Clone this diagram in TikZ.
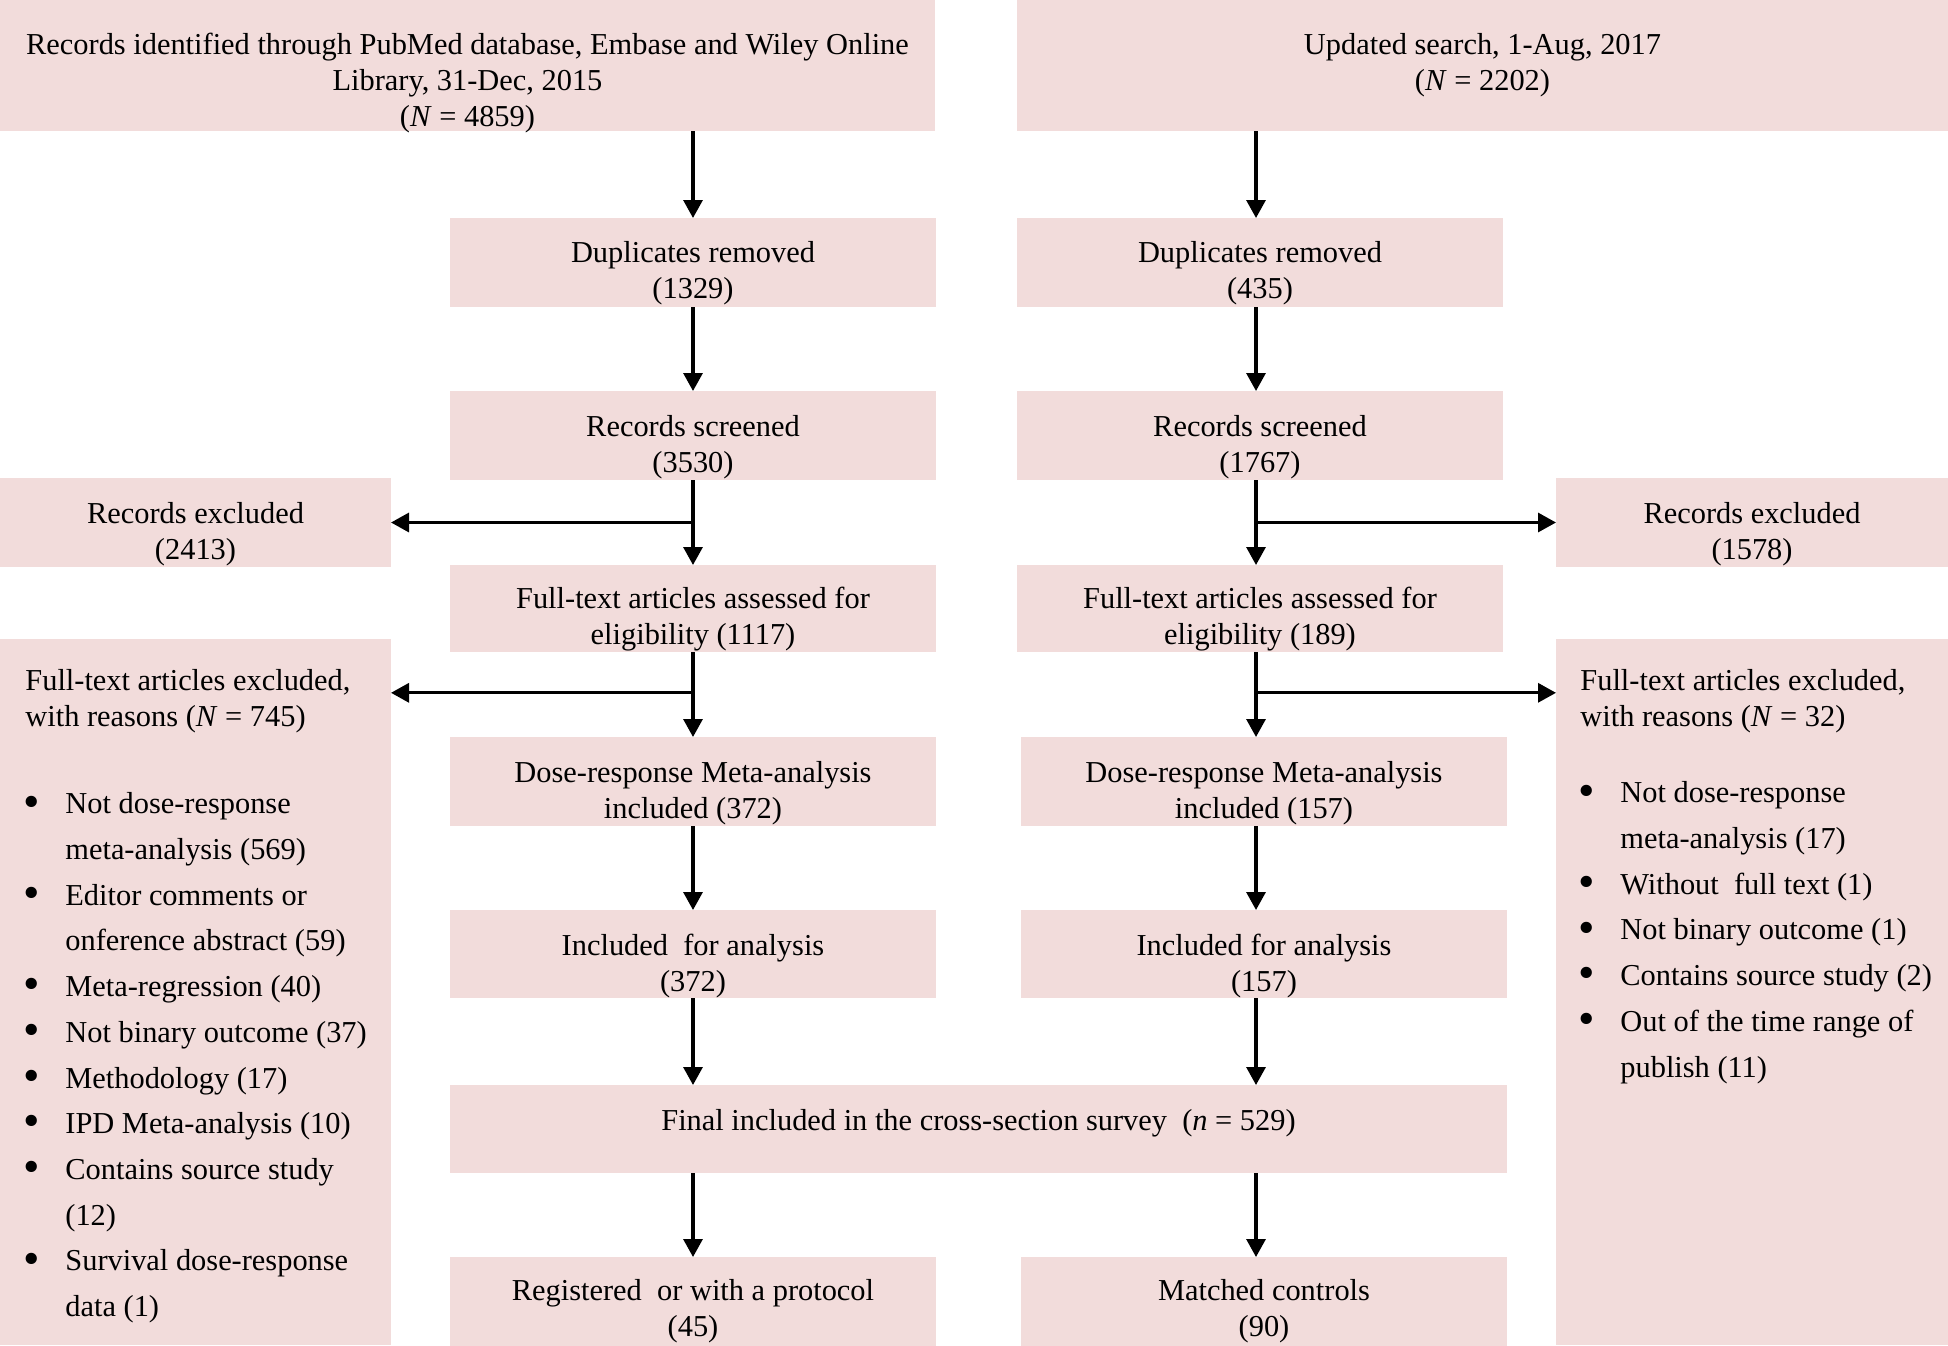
\documentclass[tikz,border=0pt]{standalone}
\usepackage{fontspec}
\setmainfont{Liberation Serif}
\usetikzlibrary{positioning,calc,arrows.meta}
\definecolor{boxpink}{HTML}{F2DCDB}
\newcommand{\fs}{\fontsize{15.2}{18}\selectfont}
\newcommand{\fslist}{\fontsize{15.2}{22.85}\selectfont}
\newcommand{\bul}{\makebox[20pt][l]{\hspace*{-1pt}\raisebox{-1.6pt}{\scalebox{1.55}{\textbullet}}}}
\newcommand{\ind}{\hspace*{20pt}}

\begin{document}
\begin{tikzpicture}[x=0.5pt,y=-0.5pt,
                    box/.style={fill=boxpink,anchor=north west,inner sep=0pt,outer sep=0pt,
                                minimum width=243pt,minimum height=44.5pt},
                    txt/.style={inner sep=0pt,align=center,font=\fs},
                    lst/.style={inner sep=0pt,align=left,font=\fslist},
                    arr/.style={line width=1.6pt,-{Triangle[length=9pt,width=9.5pt]}}]

    \useasboundingbox (0,0) rectangle (1948,1345);

    \node[box,minimum width=467.5pt,minimum height=65.5pt] (topL) at (0,0) {};
    \node[box,minimum width=465.5pt,minimum height=65.5pt] (topR) at (1017,0) {};
    \node[box] (dupL) at (450,218) {};
    \node[box] (dupR) at (1017,218) {};
    \node[box] (scrL) at (450,391) {};
    \node[box] (scrR) at (1017,391) {};
    \node[box,minimum width=195.5pt] (exL) at (0,478) {};
    \node[box,minimum width=196pt] (exR) at (1556,478) {};
    \node[box,minimum height=43.5pt] (fullL) at (450,565) {};
    \node[box,minimum height=43.5pt] (fullR) at (1017,565) {};
    \node[box,minimum width=195.5pt,minimum height=353pt] (reasL) at (0,639) {};
    \node[box,minimum width=196pt,minimum height=353pt] (reasR) at (1556,639) {};
    \node[box] (doseL) at (450,737) {};
    \node[box] (doseR) at (1021,737) {};
    \node[box,minimum height=44pt] (inclL) at (450,910) {};
    \node[box,minimum height=44pt] (inclR) at (1021,910) {};
    \node[box,minimum width=528.5pt,minimum height=44pt] (final) at (450,1085) {};
    \node[box] (regL) at (450,1257) {};
    \node[box] (matchR) at (1021,1257) {};

    \node[txt,below=16.5pt of topL.north] {Records identified through PubMed database, Embase and Wiley Online\\Library, 31-Dec, 2015\\(\textit{N} = 4859)};
    \node[txt,below=16.5pt of topR.north] {Updated search, 1-Aug, 2017\\(\textit{N} = 2202)};
    \node[txt,below=11.5pt of dupL.north] {Duplicates removed\\(1329)};
    \node[txt,below=11.5pt of dupR.north] {Duplicates removed\\(435)};
    \node[txt,below=12pt of scrL.north] {Records screened\\(3530)};
    \node[txt,below=12pt of scrR.north] {Records screened\\(1767)};
    \node[txt,below=12pt of exL.north] {Records excluded\\(2413)};
    \node[txt,below=12pt of exR.north] {Records excluded\\(1578)};
    \node[txt,below=11pt of fullL.north] {Full-text articles assessed for\\eligibility (1117)};
    \node[txt,below=11pt of fullR.north] {Full-text articles assessed for\\eligibility (189)};
    \node[txt,below=12pt of doseL.north] {Dose-response Meta-analysis\\included (372)};
    \node[txt,below=12pt of doseR.north] {Dose-response Meta-analysis\\included (157)};
    \node[txt,below=12pt of inclL.north] {Included\ \ for analysis\\(372)};
    \node[txt,below=12pt of inclR.north] {Included for analysis\\(157)};
    \node[txt,below=12pt of final.north] {Final included in the cross-section survey\ \ (\textit{n} = 529)};
    \node[txt,below=11pt of regL.north] {Registered\ \ or with a protocol\\(45)};
    \node[txt,below=11pt of matchR.north] {Matched controls\\(90)};

    \node[txt,align=left,below right=15pt and 12.5pt of reasL.north west] (hdrL) {Full-text articles excluded,\\with reasons (\textit{N} = 745)};
    \node[lst,below right=29.5pt and 0pt of hdrL.south west] {\bul Not dose-response\\\ind meta-analysis (569)\\\bul Editor comments or\\\ind onference abstract (59)\\\bul Meta-regression (40)\\\bul Not binary outcome (37)\\\bul Methodology (17)\\\bul IPD Meta-analysis (10)\\\bul Contains source study\\\ind (12)\\\bul Survival dose-response\\\ind data (1)};
    \node[txt,align=left,below right=15pt and 12pt of reasR.north west] (hdrR) {Full-text articles excluded,\\with reasons (\textit{N} = 32)};
    \node[lst,below right=24pt and 0pt of hdrR.south west] {\bul Not dose-response\\\ind meta-analysis (17)\\\bul Without\ \ full text (1)\\\bul Not binary outcome (1)\\\bul Contains source study (2)\\\bul Out of the time range of\\\ind publish (11)};

    \coordinate (colR) at (1256,0);
    \coordinate (brk) at ($(fullL.south)!.48!(doseL.north)$);

    \draw[arr] (dupL.north |- topL.south) -- (dupL.north);
    \draw[arr] (colR |- topR.south) -- (colR |- dupR.north);
    \draw[arr] (dupL.south) -- (scrL.north);
    \draw[arr] (colR |- dupR.south) -- (colR |- scrR.north);
    \draw[arr] (scrL.south) -- (fullL.north);
    \draw[arr] (scrL.south |- exL.east) -- (exL.east);
    \draw[arr] (colR |- scrR.south) -- (colR |- fullR.north);
    \draw[arr] (colR |- exR.west) -- (exR.west);
    \draw[arr] (fullL.south) -- (doseL.north);
    \draw[arr] (brk) -- (brk -| reasL.east);
    \draw[arr] (colR |- fullR.south) -- (colR |- doseR.north);
    \draw[arr] (colR |- brk) -- (brk -| reasR.west);
    \draw[arr] (doseL.south) -- (inclL.north);
    \draw[arr] (colR |- doseR.south) -- (colR |- inclR.north);
    \draw[arr] (inclL.south) -- (inclL.south |- final.north);
    \draw[arr] (colR |- inclR.south) -- (colR |- final.north);
    \draw[arr] (regL.north |- final.south) -- (regL.north);
    \draw[arr] (colR |- final.south) -- (colR |- matchR.north);
\end{tikzpicture}
\end{document}
